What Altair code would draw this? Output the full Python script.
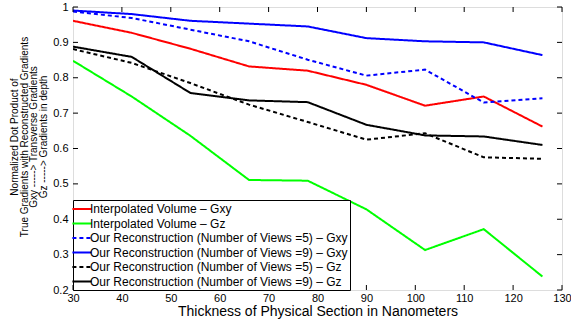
import altair as alt
import pandas as pd

thickness = [30, 42, 54, 66, 78, 90, 102, 114, 126]
interp_gxy = [0.961, 0.927, 0.882, 0.832, 0.820, 0.780, 0.721, 0.747, 0.662]
interp_gz = [0.848, 0.747, 0.636, 0.511, 0.509, 0.428, 0.313, 0.372, 0.238]
recon5_gxy = [0.987, 0.969, 0.936, 0.903, 0.851, 0.806, 0.823, 0.730, 0.742]
recon9_gxy = [0.990, 0.980, 0.961, 0.953, 0.945, 0.912, 0.903, 0.900, 0.864]
recon5_gz = [0.881, 0.842, 0.785, 0.724, 0.675, 0.625, 0.643, 0.575, 0.571]
recon9_gz = [0.888, 0.859, 0.757, 0.736, 0.731, 0.667, 0.637, 0.634, 0.610]

series_names = [
    "Interpolated Volume \u2013 Gxy",
    "Interpolated Volume \u2013 Gz",
    "Our Reconstruction (Number of Views =5) \u2013 Gxy",
    "Our Reconstruction (Number of Views =9) \u2013 Gxy",
    "Our Reconstruction (Number of Views =5) \u2013 Gz",
    "Our Reconstruction (Number of Views =9) \u2013 Gz",
]
series_values = [interp_gxy, interp_gz, recon5_gxy, recon9_gxy, recon5_gz, recon9_gz]
series_colors = ["#ff0000", "#00ff00", "#0000ff", "#0000ff", "#000000", "#000000"]
series_dash = [[1, 0], [1, 0], [4, 3], [1, 0], [4, 3], [1, 0]]

x_ticks = [30, 40, 50, 60, 70, 80, 90, 100, 110, 120, 130]
y_ticks = [0.2, 0.3, 0.4, 0.5, 0.6, 0.7, 0.8, 0.9, 1.0]

y_title_lines = ["Normalized Dot Product of",
                 "True Gradients with Reconstructed Gradients",
                 "Gxy -----> Transverse Gradients",
                 "Gz -----> Gradients in depth"]

rows = []
for name, vals in zip(series_names, series_values):
    for t, v in zip(thickness, vals):
        rows.append({"x": t, "y": v, "series": name})
df = pd.DataFrame(rows)

W, H = 489, 283
FONT = "Liberation Sans"

xscale = alt.Scale(domain=[30, 130], nice=False, zero=False)
yscale = alt.Scale(domain=[0.2, 1.0], nice=False, zero=False)

legend_kw = dict(title=None, orient="bottom-left", offset=0,
                 symbolType="M-1.6,0L1.6,0", symbolSize=144,
                 symbolStrokeWidth=2, labelFontSize=12,
                 labelFont=FONT, labelColor="black",
                 labelOffset=1, rowPadding=1.5, padding=2,
                 strokeColor="black", fillColor="white",
                 labelLimit=400)

xaxis = alt.Axis(values=x_ticks, ticks=False, domain=False, grid=False,
                 labelFontSize=11, labelPadding=2, labelFont=FONT,
                 labelColor="black", labelFlush=False,
                 title="Thickness of Physical Section in Nanometers",
                 titleFontSize=14, titleFont=FONT, titleFontWeight="normal",
                 titleColor="black", titleY=25, titleBaseline="alphabetic")
yaxis = alt.Axis(values=y_ticks, ticks=False, domain=False, grid=False,
                 labelFontSize=11, labelPadding=5, labelFont=FONT,
                 labelColor="black", labelFlush=False,
                 labelExpr="datum.value == 1 ? '1' : format(datum.value, '.1f')",
                 title=None)

lines = alt.Chart(df).mark_line(strokeWidth=2, clip=True).encode(
    x=alt.X("x:Q", scale=xscale, axis=xaxis),
    y=alt.Y("y:Q", scale=yscale, axis=yaxis),
    color=alt.Color("series:N",
                    scale=alt.Scale(domain=series_names, range=series_colors),
                    legend=alt.Legend(**legend_kw)),
    strokeDash=alt.StrokeDash("series:N",
                              scale=alt.Scale(domain=series_names, range=series_dash),
                              legend=alt.Legend(**legend_kw)),
    order=alt.Order("x:Q"),
)

xt = pd.DataFrame({"x": x_ticks})
yt = pd.DataFrame({"y": y_ticks})

tick_b = alt.Chart(xt).mark_rule(color="black", strokeWidth=1).encode(
    x=alt.X("x:Q", scale=xscale, axis=xaxis), y=alt.value(H), y2=alt.value(H - 5))
tick_t = alt.Chart(xt).mark_rule(color="black", strokeWidth=1).encode(
    x=alt.X("x:Q", scale=xscale, axis=xaxis), y=alt.value(0), y2=alt.value(5))
tick_l = alt.Chart(yt).mark_rule(color="black", strokeWidth=1).encode(
    y=alt.Y("y:Q", scale=yscale, axis=yaxis), x=alt.value(0), x2=alt.value(5))
tick_r = alt.Chart(yt).mark_rule(color="black", strokeWidth=1).encode(
    y=alt.Y("y:Q", scale=yscale, axis=yaxis), x=alt.value(W), x2=alt.value(W - 5))

title_x = [-58, -48.3, -38.6, -28.9]
title_layers = []
for line, xp in zip(y_title_lines, title_x):
    title_layers.append(
        alt.Chart(pd.DataFrame({"t": [line]})).mark_text(
            angle=270, fontSize=10, font=FONT, color="black",
            align="center", baseline="middle",
        ).encode(text="t:N", x=alt.value(xp), y=alt.value(130))
    )

chart = alt.layer(lines, tick_b, tick_t, tick_l, tick_r, *title_layers).properties(
    width=W, height=H,
    autosize=alt.AutoSizeParams(type="none"),
    padding={"left": 73, "top": 7, "right": 9, "bottom": 34},
).configure_view(stroke="black", strokeWidth=1.5).configure(background="white")

chart.save("out.html", embed_options={"renderer": "svg", "actions": False})
